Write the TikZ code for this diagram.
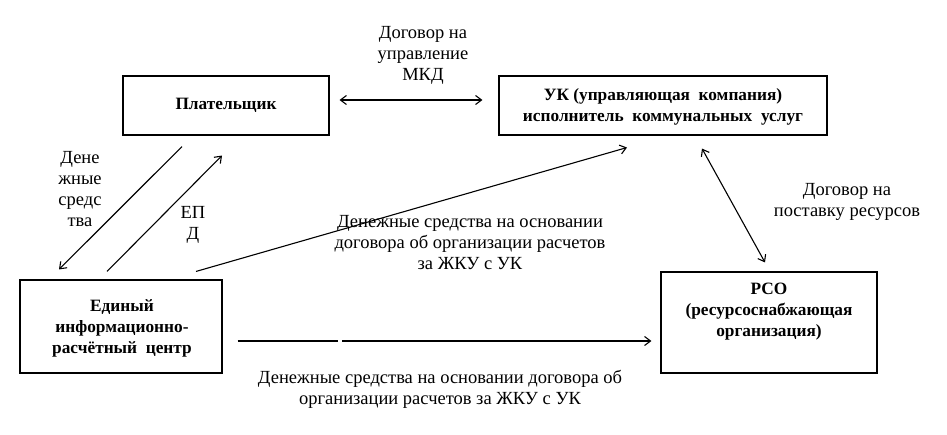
\documentclass[tikz,border=0pt]{standalone}
\usepackage{fontspec}
\setmainfont{Liberation Serif}
\newfontfamily\tnr{Liberation Serif}
\usetikzlibrary{arrows.meta,calc}
\begin{document}
\begin{tikzpicture}[x=1pt,y=-1pt,
  box/.style={draw,line width=1.1pt,rectangle,inner sep=0pt},
  boxtext/.style={align=center,font=\tnr\fontsize{17.3}{21}\selectfont\bfseries,inner sep=0pt},
  lbl/.style={align=center,font=\tnr\fontsize{18.5}{21}\selectfont,inner sep=0pt},
  conn/.style={line width=1.1pt},
  tip/.style={-{Straight Barb[length=6pt,width=9pt,line width=1.1pt]}},
  both/.style={{Straight Barb[length=6pt,width=9pt,line width=1.1pt]}-{Straight Barb[length=6pt,width=9pt,line width=1.1pt]}}
]
\useasboundingbox (0,0) rectangle (947,435);
\fill[white] (0,0) rectangle (947,435);
% boxes
\node[box,minimum width=206pt,minimum height=59pt] (pl) at (226,105.5) {};
\node[boxtext] (plt) at (226,105) {Плательщик};
\node[box,minimum width=328pt,minimum height=59pt] (uk) at (663,105.5) {};
\node[boxtext] (ukt) at (663,107) {УК (управляющая\ \ компания)\\исполнитель\ \ коммунальных\ \ услуг};
\node[box,minimum width=202pt,minimum height=93pt] (eirc) at (121,326.5) {};
\node[boxtext] (eirct) at (122,328) {Единый\\информационно-\\расчётный\ \ центр};
\node[box,minimum width=216pt,minimum height=101pt] (rso) at (769,322.5) {};
\node[boxtext] (rsot) at (769,312) {РСО\\(ресурсоснабжающая\\организация)};
% connectors
\draw[conn,both] ($(pl.east)+(10,-5.5)$) -- ($(uk.west)+(-16,-5.5)$);
\draw[conn,tip] ($(pl.south)+(-44,11)$) -- ($(eirc.north)+(-62,-10)$);
\draw[conn,tip] ($(eirc.north)+(-14,-8)$) -- ($(pl.south)+(-4,20)$);
\draw[conn,tip] ($(eirc.north)+(75,-8)$) -- ($(uk.south)+(-36,12)$);
\draw[conn,both] ($(uk.south)+(39,13)$) -- ($(rso.north)+(-4,-9)$);
\coordinate (g1) at (338,341);
\coordinate (g2) at (342,341);
\draw[conn] ($(eirc.east)+(15,14.5)$) -- (g1);
\draw[conn,tip] (g2) -- ($(rso.west)+(-9,18.5)$);
% labels
\node[lbl] (l1) at (423,55) {Договор на\\управление\\МКД};
\node[lbl] (l2) at (80,189) {Дене\\жные\\средс\\тва};
\node[lbl] (l3) at (193,225) {ЕП\\Д};
\node[lbl] (l4) at (470,243) {Денежные средства на основании\\договора об организации расчетов\\за ЖКУ с УК};
\node[lbl] (l5) at (847,202) {Договор на\\поставку ресурсов};
\node[lbl] (l6) at (440,389) {Денежные средства на основании договора об\\организации расчетов за ЖКУ с УК};
\end{tikzpicture}
\end{document}
